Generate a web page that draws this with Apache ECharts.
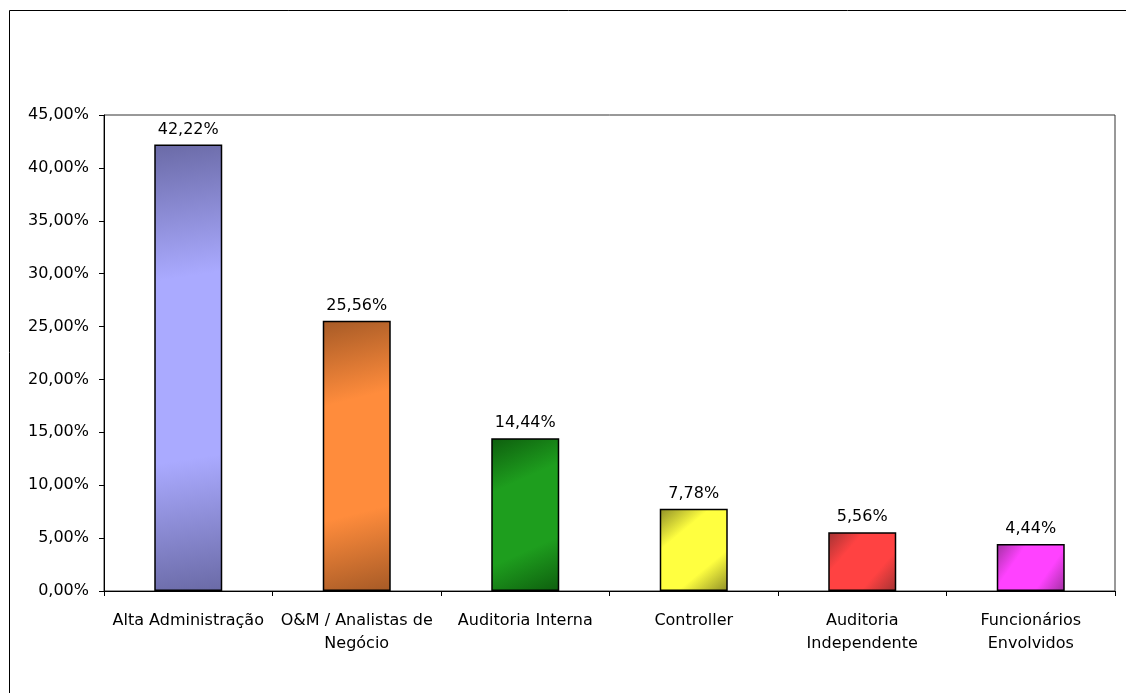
<!DOCTYPE html>
<html>
<head>
<meta charset="utf-8">
<script src="https://cdn.jsdelivr.net/npm/echarts@6/dist/echarts.min.js"></script>
<style>
html,body{margin:0;padding:0;background:#fff;}
#chart{width:1126px;height:693px;}
</style>
</head>
<body>
<div id="chart"></div>
<script>
const categories = ['Alta Administração', 'O&M / Analistas de\nNegócio', 'Auditoria Interna', 'Controller', 'Auditoria\nIndependente', 'Funcionários\nEnvolvidos'];
const values = [42.22, 25.56, 14.44, 7.78, 5.56, 4.44];
const lightColors = ['#AAAAFF', '#FF8C3C', '#1E9E1E', '#FFFF40', '#FF4242', '#FF42FF'];
const darkColors = ['#6A6AA6', '#A65A26', '#0E5E0E', '#8E8E26', '#A23232', '#A030A0'];
const yTicks = { min: 0, max: 45, interval: 5 };

const font = 'Tahoma, "DejaVu Sans", sans-serif';
const fmt = v => v.toFixed(2).replace('.', ',') + '%';

const chart = echarts.init(document.getElementById('chart'));
chart.setOption({
  animation: false,
  backgroundColor: '#fff',
  graphic: [{
    type: 'rect',
    shape: { x: 9.5, y: 10.5, width: 1300, height: 900 },
    style: { fill: 'none', stroke: '#000', lineWidth: 1 },
    silent: true
  }],
  grid: {
    left: 104, top: 115, right: 11, bottom: 102,
    show: true, borderColor: '#333', borderWidth: 1, backgroundColor: '#fff'
  },
  xAxis: {
    type: 'category',
    data: categories,
    axisLine: { lineStyle: { color: '#000', width: 1 } },
    axisTick: { show: true, length: 5, lineStyle: { color: '#000' } },
    axisLabel: { color: '#000', fontFamily: font, fontSize: 16, lineHeight: 23, margin: 18, interval: 0 }
  },
  yAxis: {
    type: 'value',
    min: yTicks.min, max: yTicks.max, interval: yTicks.interval,
    axisLine: { show: true, lineStyle: { color: '#000', width: 1 } },
    axisTick: { show: true, length: 5, lineStyle: { color: '#000' } },
    splitLine: { show: false },
    axisLabel: { color: '#000', fontFamily: font, fontSize: 16, margin: 15, formatter: fmt }
  },
  series: [{
    type: 'bar',
    barWidth: 68,
    data: values.map((v, i) => ({
      value: v,
      itemStyle: {
        color: new echarts.graphic.LinearGradient(0, 0, 1, 1, [
          { offset: 0, color: darkColors[i] },
          { offset: 0.3, color: lightColors[i] },
          { offset: 0.7, color: lightColors[i] },
          { offset: 1, color: darkColors[i] }
        ]),
        borderColor: '#000',
        borderWidth: 1.5
      }
    })),
    label: {
      show: true, position: 'top', distance: 7,
      color: '#000', fontFamily: font, fontSize: 16,
      formatter: p => fmt(p.value)
    }
  }]
});
</script>
</body>
</html>
